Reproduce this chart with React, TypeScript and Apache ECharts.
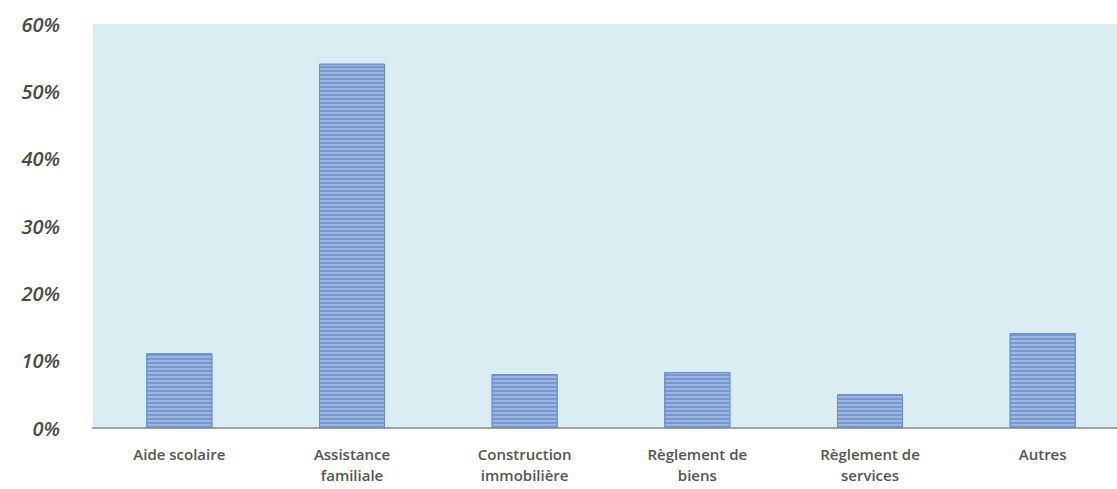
import React, { useEffect, useRef } from "react";
import * as echarts from "echarts";

const categories = [
  "Aide scolaire",
  "Assistance\nfamiliale",
  "Construction\nimmobilière",
  "Règlement de\nbiens",
  "Règlement de\nservices",
  "Autres",
];
const values = [11.1, 54.1, 8.0, 8.3, 5.0, 14.1];
const yTicks = [0, 10, 20, 30, 40, 50, 60];

export default function App() {
  const ref = useRef<HTMLDivElement>(null);
  useEffect(() => {
    document.body.style.margin = "0";
    const chart = echarts.init(ref.current!, undefined, { renderer: "svg" });
    chart.setOption({
      animation: false,
      grid: {
        left: 93,
        top: 24,
        width: 1036,
        height: 404,
        outerBoundsMode: "none",
        containLabel: false,
        show: true,
        backgroundColor: "#daedf3",
        borderWidth: 0,
      },
      xAxis: {
        type: "category",
        data: categories,
        axisLine: { show: true, lineStyle: { color: "#a3a3a3", width: 2 } },
        axisTick: { show: false },
        axisLabel: {
          color: "#555555",
          fontFamily: "Open Sans",
          fontSize: 15,
          fontWeight: 600,
          margin: 15,
          lineHeight: 21,
          interval: 0,
        },
      },
      yAxis: {
        type: "value",
        min: yTicks[0],
        max: yTicks[yTicks.length - 1],
        interval: 10,
        splitLine: { show: false },
        axisLine: { show: false },
        axisTick: { show: false },
        axisLabel: {
          formatter: "{value}%",
          color: "#4a4a4a",
          fontFamily: "Open Sans",
          fontStyle: "italic",
          fontWeight: 600,
          fontSize: 20,
          margin: 33,
          padding: [8, 0, 0, 0],
        },
      },
      series: [
        {
          type: "bar",
          data: values,
          barWidth: 66,
          itemStyle: {
            color: "#7797cf",
            borderColor: "#6b8cc6",
            borderWidth: 1,
            decal: {
              symbol: "rect",
              symbolSize: 1,
              dashArrayX: [[1, 0]],
              dashArrayY: [2, 2],
              rotation: 0,
              color: "rgba(200,220,245,0.45)",
            },
          },
        },
      ],
    });
    return () => chart.dispose();
  }, []);
  return (
    <div style={{ position: "absolute", left: 0, top: 0, width: 1117, height: 489, overflow: "hidden" }}>
      <div ref={ref} style={{ width: 1117, height: 489 }} />
    </div>
  );
}
